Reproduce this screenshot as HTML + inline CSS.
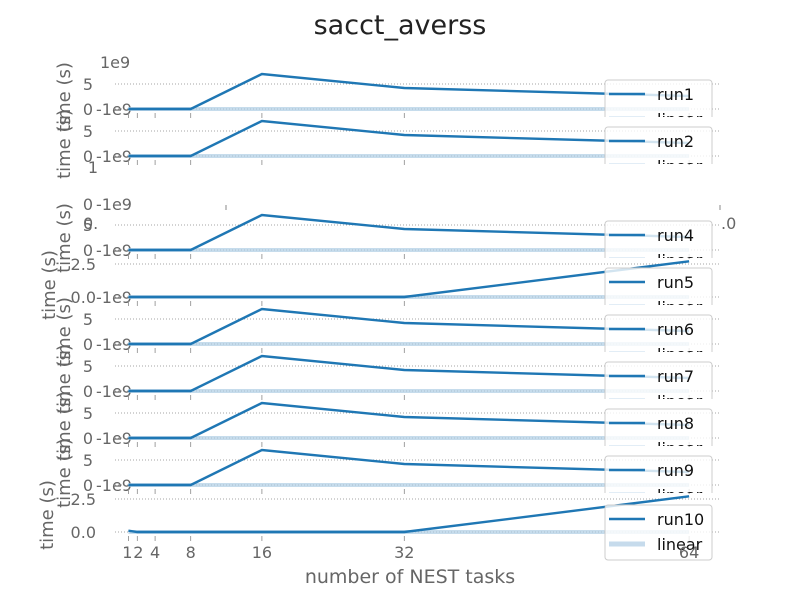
<!DOCTYPE html>
<html><head><meta charset="utf-8"><style>
body{margin:0;background:#fff}
svg{display:block;font-family:"DejaVu Sans","Liberation Sans",sans-serif}
</style></head><body>
<svg id="c" width="800" height="600" viewBox="0 0 800 600">
<text x="400" y="34" text-anchor="middle" font-size="27" fill="#222">sacct_averss</text>
<text x="100" y="68" font-size="16" fill="#666">1e9</text>
<g id="plots"></g>
<text x="410" y="583" text-anchor="middle" font-size="19" fill="#666">number of NEST tasks</text>
</svg>
<script>
const xTicks = [1, 2, 4, 8, 16, 32, 64];
const xTickLabels = ["1", "2", "4", "8", "16", "32", "64"];
const runNames = ["run1","run2","run3","run4","run5","run6","run7","run8","run9","run10"];
const run1 = [0, 0, 0, 0, 7, 4.2, 2.6];
const run2 = [0, 0, 0, 0, 7, 4.2, 2.6];
const run3 = null;
const run4 = [0, 0, 0, 0, 7, 4.2, 2.6];
const run5 = [0, 0, 0, 0, 0, 0, 2.7];
const run6 = [0, 0, 0, 0, 7, 4.2, 2.6];
const run7 = [0, 0, 0, 0, 7, 4.2, 2.6];
const run8 = [0, 0, 0, 0, 7, 4.2, 2.6];
const run9 = [0, 0, 0, 0, 7, 4.2, 2.6];
const run10 = [0.1, 0, 0, 0, 0, 0, 2.7];
const linearVals = [0, 0, 0, 0, 0, 0, 0];
const yTickVals1e9 = [0, 5];
const yTickLabels1e9 = ["0", "5"];
const yTickVals25 = [0, 2.5];
const yTickLabels25 = ["0.0", "2.5"];

const series = [run1, run2, run3, run4, run5, run6, run7, run8, run9, run10];
const rowZero = [109, 156, 204, 250, 297, 344, 391, 438, 485, 532];
const NS = "http://www.w3.org/2000/svg";
const g = document.getElementById('plots');
function xs(v){ return 119.5 + 8.9 * v; }
function el(tag, attrs, parent, text){
  const e = document.createElementNS(NS, tag);
  for (const k in attrs) e.setAttribute(k, attrs[k]);
  if (text !== undefined) e.textContent = text;
  (parent || g).appendChild(e);
  return e;
}
const TF = 16;
series.forEach((data, i) => {
  const z = rowZero[i];
  const grp = el('g', {});
  
  
  if (i !== 9) {
    const o = el('text', {x: 96, y: z+6, 'font-size':TF, fill:'#666'}, grp, '-1e9');
    
    
  }
  if (!data) {
    const a = el('text', {x: 98, y: 173, 'text-anchor':'end', 'font-size':TF, fill:'#666'}, grp, '1');
     
    const b = el('text', {x: 93, y: 210, 'text-anchor':'end', 'font-size':TF, fill:'#666'}, grp, '0');
     
    const c = el('text', {x: 83, y: 229, 'font-size':TF, fill:'#666'}, grp, '0.');
     
    const d = el('text', {x: 721, y: 229, 'font-size':TF, fill:'#666'}, grp, '.0');
     
    el('line', {x1:226,y1:205,x2:226,y2:210,stroke:'#888'}, grp);
    el('line', {x1:720,y1:205,x2:720,y2:210,stroke:'#888'}, grp);
    return;
  }
  const big = (i === 4 || i === 9);
  const tv = big ? yTickVals25 : yTickVals1e9;
  const tl = big ? yTickLabels25 : yTickLabels1e9;
  const k = big ? 13.2 : 5;
  const ys = v => z - v * k;
  tv.forEach((v, j) => {
    el('line', {x1:115, y1:ys(v), x2:720, y2:ys(v), stroke:'#888', 'stroke-width':0.8, 'stroke-dasharray':'1,2'}, grp);
    const t = el('text', {x: big ? 96 : 93, y: ys(v)+6, 'text-anchor':'end', 'font-size':TF, fill:'#666'}, grp, tl[j]);
    
    
  });
  xTicks.forEach(v => el('line', {x1:xs(v), y1:z+4, x2:xs(v), y2:z+9, stroke:'#888', 'stroke-width':0.8}, grp));
  const tx = i===9 ? 53 : (i===4 ? 55 : 70);
  const ty = i === 9 ? 515 : z - 12;
  const yt = el('text', {x: tx, y: ty, 'text-anchor':'middle', 'font-size':18, fill:'#666', transform:`rotate(-90 ${tx} ${ty})`}, grp, 'time (s)');
  
  
  const lin = el('polyline', {points: xTicks.map((x, j) => xs(x)+','+ys(linearVals[j])).join(' '), fill:'none', stroke:'#aecde4', 'stroke-width':4, opacity:0.7}, grp);
  
  
  const ln = el('polyline', {points: xTicks.map((x, j) => xs(x)+','+ys(data[j])).join(' '), fill:'none', stroke:'#1f77b4', 'stroke-width':2.4}, grp);
  
  
  const full = i === 9;
  const top = full ? 505 : z - 29;
  const cid = 'clip' + i;
  const cp = el('clipPath', {id: cid}, grp);
  el('rect', {x:600, y:top-2, width:120, height: full ? 70 : 39}, cp);
  const lg = el('g', {'clip-path':`url(#${cid})`}, grp);
  
  
  el('rect', {x:605, y:top, width:107, height: full ? 55 : 60, rx:3, fill:'#fff', 'fill-opacity':0.8, stroke:'#ccc'}, lg);
  el('line', {x1:609, y1:top+14, x2:645, y2:top+14, stroke:'#1f77b4', 'stroke-width':2.4}, lg);
  const lt = el('text', {x:657, y:top+20, 'font-size':16, fill:'#111'}, lg, runNames[i]);
  
  
  el('line', {x1:609, y1:top+39, x2:645, y2:top+39, stroke:'#aecde4', 'stroke-width':5, opacity:0.7}, lg);
  const lt2 = el('text', {x:657, y:top+45, 'font-size':16, fill:'#111'}, lg, 'linear');
  
  
});
xTicks.forEach((v, j) => {
  const t = el('text', {x: xs(v) + (v===1?-1:(v===2?1:0)), y: 558, 'text-anchor':'middle', 'font-size':TF, fill:'#666'}, g, xTickLabels[j]);
  
  
});
</script>
</body></html>
